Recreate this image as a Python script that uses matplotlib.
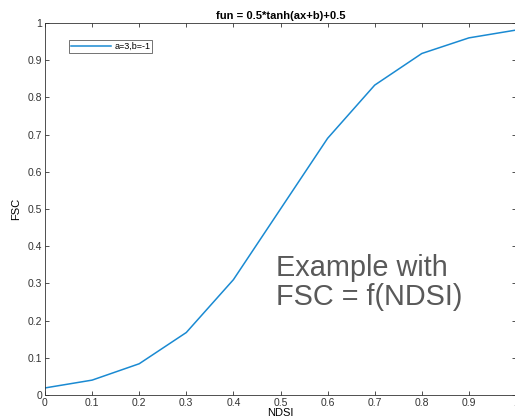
import matplotlib
matplotlib.use("Agg")
import matplotlib.pyplot as plt

# values
ndsi = [0.0, 0.1, 0.2, 0.3, 0.4, 0.5, 0.6, 0.7, 0.8, 0.9, 1.0]
fsc = [0.019, 0.040, 0.084, 0.168, 0.310, 0.500, 0.690, 0.833, 0.918, 0.960, 0.981]
x_ticks = [0, 0.1, 0.2, 0.3, 0.4, 0.5, 0.6, 0.7, 0.8, 0.9, 1]
x_labels = ["0", "0.1", "0.2", "0.3", "0.4", "0.5", "0.6", "0.7", "0.8", "0.9", "1"]
y_ticks = [0, 0.1, 0.2, 0.3, 0.4, 0.5, 0.6, 0.7, 0.8, 0.9, 1]
y_labels = ["0", "0.1", "0.2", "0.3", "0.4", "0.5", "0.6", "0.7", "0.8", "0.9", "1"]

plt.rcParams["font.family"] = ["Liberation Sans", "DejaVu Sans"]

fig = plt.figure(figsize=(5.15, 4.19), dpi=100)
ax = fig.add_axes([45 / 515, 24 / 419, 471 / 515, 372 / 419])

ax.plot(ndsi, fsc, color="#1a8ad2", linewidth=1.1, label="a=3,b=-1")

ax.set_xlim(0, 1)
ax.set_ylim(0, 1)
ax.set_xticks(x_ticks)
ax.set_xticklabels(x_labels)
ax.set_yticks(y_ticks)
ax.set_yticklabels(y_labels)
ax.tick_params(direction="in", top=True, right=True, length=3, width=0.6,
               labelsize=7.5, colors="#333333", pad=2)
for s in ax.spines.values():
    s.set_color("#333333")
    s.set_linewidth(0.6)

ax.set_title("fun = 0.5*tanh(ax+b)+0.5", fontsize=8, fontweight="bold", pad=3)
ax.set_xlabel("NDSI", fontsize=8, labelpad=0)
ax.set_ylabel("FSC", fontsize=8, labelpad=5)

leg = ax.legend(loc="upper left", bbox_to_anchor=(0.05, 0.955), fontsize=6.5,
                frameon=True, fancybox=False, handlelength=4.5, borderpad=0.25,
                handletextpad=0.3, borderaxespad=0)
leg.get_frame().set_edgecolor("#333333")
leg.get_frame().set_linewidth(0.6)

ax.text(0.49, 0.227, "Example with\nFSC = f(NDSI)", transform=ax.transAxes,
        fontsize=20.8, color="#595959", ha="left", va="bottom", linespacing=1.03)

fig.savefig("out.png", dpi=100)
